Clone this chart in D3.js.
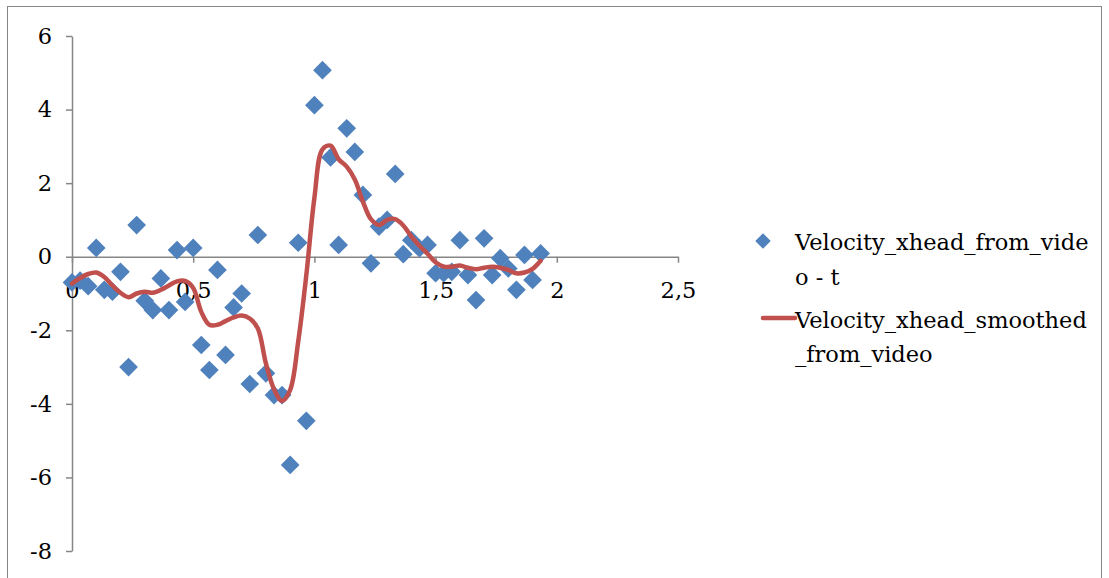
<!DOCTYPE html>
<html>
<head>
<meta charset="utf-8">
<script src="https://cdn.jsdelivr.net/npm/d3@7"></script>
<style>
  html, body { margin: 0; padding: 0; background: #fff; }
  svg { display: block; }
  text { font-family: "DejaVu Serif", "Liberation Serif", serif; fill: #000; }
</style>
</head>
<body>
<svg id="chart" width="1109" height="578"></svg>
<script>
// Sample times (s), one frame every 1/30 s
const frames = d3.range(59);
const times = frames.map(i => i / 30);

// Raw head velocity measured from the video
const velocityRaw = [
  -0.70, -0.65, -0.80, 0.24, -0.90, -0.95, -0.41, -3.00, 0.86, -1.20,
  -1.45, -0.59, -1.45, 0.18, -1.23, 0.24, -2.40, -3.08, -0.36, -2.67,
  -1.38, -1.00, -3.46, 0.59, -3.17, -3.76, -3.76, -5.66, 0.38, -4.46,
  4.12, 5.07, 2.70, 0.32, 3.49, 2.85, 1.68, -0.18, 0.82, 1.00,
  2.25, 0.07, 0.45, 0.23, 0.32, -0.45, -0.45, -0.41, 0.45, -0.50,
  -1.18, 0.50, -0.50, -0.04, -0.32, -0.90, 0.05, -0.63, 0.09
];

// Smoothed head velocity
const velocitySmooth = [
  -0.73, -0.58, -0.47, -0.43, -0.55, -0.78, -0.98, -1.10, -1.00, -0.95,
  -0.98, -0.90, -0.78, -0.67, -0.66, -0.85, -1.50, -1.85, -1.85, -1.75,
  -1.65, -1.60, -1.68, -1.95, -2.90, -3.60, -3.92, -3.62, -2.30, -0.50,
  1.60, 2.92, 3.02, 2.65, 2.45, 2.10, 1.50, 1.02, 0.86, 1.00,
  1.02, 0.85, 0.55, 0.30, 0.08, -0.15, -0.27, -0.27, -0.24, -0.30,
  -0.34, -0.30, -0.27, -0.30, -0.36, -0.45, -0.43, -0.33, -0.11
];

const xTicks = [0, 0.5, 1, 1.5, 2, 2.5];
const yTicks = [-8, -6, -4, -2, 0, 2, 4, 6];

const blue = "#4F81BD", red = "#C0504D", axisGrey = "#868686";
const fontSize = 22.5;
const fmt = v => String(v).replace(".", ",");

const svg = d3.select("#chart");

// outer chart frame
svg.append("rect")
  .attr("x", 7.5).attr("y", 6.5).attr("width", 1094).attr("height", 600)
  .attr("fill", "none").attr("stroke", axisGrey).attr("stroke-width", 1);

const x = d3.scaleLinear().domain([0, 2.5]).range([72, 678]);
const y = d3.scaleLinear().domain([-8, 6]).range([551, 36]);

// y axis on the left
const yAxis = svg.append("g")
  .attr("transform", `translate(${x(0)},0)`)
  .call(d3.axisLeft(y).tickValues(yTicks).tickSize(6).tickSizeOuter(0).tickPadding(14).tickFormat(fmt));
yAxis.select(".domain").attr("stroke", axisGrey).attr("stroke-width", 1.5);
yAxis.selectAll(".tick line").attr("stroke", axisGrey).attr("stroke-width", 1.5);
yAxis.selectAll(".tick text").attr("font-size", fontSize).attr("font-family", "DejaVu Serif").attr("fill", "#000");

// x axis crossing at y = 0
const xAxis = svg.append("g")
  .attr("transform", `translate(0,${y(0)})`)
  .call(d3.axisBottom(x).tickValues(xTicks).tickSize(6).tickSizeOuter(0).tickPadding(19).tickFormat(fmt));
xAxis.select(".domain").attr("stroke", axisGrey).attr("stroke-width", 1.5);
xAxis.selectAll(".tick line").attr("stroke", axisGrey).attr("stroke-width", 1.5);
xAxis.selectAll(".tick text").attr("font-size", fontSize).attr("font-family", "DejaVu Serif").attr("fill", "#000");

// raw measurements as diamonds (square turned 45 degrees)
const diamond = d3.symbol().type(d3.symbolSquare).size(175);
svg.append("g").selectAll("path")
  .data(times.map((t, i) => [t, velocityRaw[i]]))
  .join("path")
  .attr("d", diamond)
  .attr("transform", d => `translate(${x(d[0])},${y(d[1])}) rotate(45)`)
  .attr("fill", blue);

// smoothed curve
const line = d3.line().x(d => x(d[0])).y(d => y(d[1])).curve(d3.curveCatmullRom.alpha(0.5));
svg.append("path")
  .datum(times.map((t, i) => [t, velocitySmooth[i]]))
  .attr("d", line)
  .attr("fill", "none").attr("stroke", red).attr("stroke-width", 4.5)
  .attr("stroke-linejoin", "round").attr("stroke-linecap", "round");

// legend
const legend = svg.append("g").attr("font-size", fontSize);
legend.append("path")
  .attr("d", d3.symbol().type(d3.symbolSquare).size(120))
  .attr("transform", "translate(763,241) rotate(45)")
  .attr("fill", blue);
legend.append("text").attr("x", 795).attr("y", 250).text("Velocity_xhead_from_vide");
legend.append("text").attr("x", 795).attr("y", 285).text("o - t");
legend.append("line")
  .attr("x1", 763).attr("x2", 795).attr("y1", 318).attr("y2", 318)
  .attr("stroke", red).attr("stroke-width", 4.5).attr("stroke-linecap", "round");
legend.append("text").attr("x", 795).attr("y", 328).text("Velocity_xhead_smoothed");
legend.append("text").attr("x", 795).attr("y", 362).text("_from_video");
</script>
</body>
</html>
